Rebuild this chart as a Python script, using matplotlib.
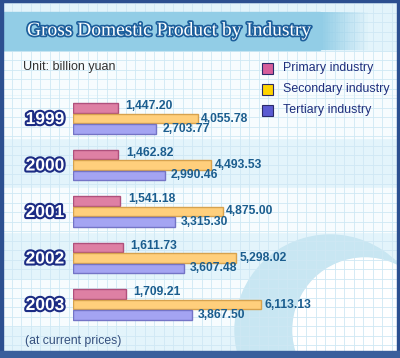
import numpy as np
import matplotlib
matplotlib.use("Agg")
import matplotlib.pyplot as plt
import matplotlib.patheffects as pe
from matplotlib.patches import Rectangle, Circle

years = ["1999", "2000", "2001", "2002", "2003"]
primary = [1447.20, 1462.82, 1541.18, 1611.73, 1709.21]
secondary = [4055.78, 4493.53, 4875.00, 5298.02, 6113.13]
tertiary = [2703.77, 2990.46, 3315.30, 3607.48, 3867.50]
series_names = ["Primary industry", "Secondary industry", "Tertiary industry"]

W, H = 400, 358
fig = plt.figure(figsize=(W / 100, H / 100), dpi=100)

# background layer in pixel coords
bg = fig.add_axes([0, 0, 1, 1])
bg.set_xlim(0, W)
bg.set_ylim(H, 0)
bg.axis("off")
bg.add_patch(Rectangle((0, 0), W, H, color="#e3f4fb", zorder=0))
# white bands behind the groups
for y0, h in [(52, 42), (96, 42), (188, 44), (280, 46)]:
    bg.add_patch(Rectangle((0, y0), W, h, color="#f7fcfe", zorder=0.1))
# globe-ish shapes bottom right
bg.add_patch(Circle((330, 330), 95, color="#c8e6f2", zorder=0.2))
bg.add_patch(Circle((365, 330), 72, color="#ffffff", zorder=0.3))
# grid
for gx in np.arange(2, W, 9.5):
    bg.axvline(gx, color="#cfe8f4", lw=0.6, zorder=0.5)
for gy in np.arange(3, H, 9.5):
    bg.axhline(gy, color="#cfe8f4", lw=0.6, zorder=0.5)

# title banner
bg.add_patch(Rectangle((0, 12), 320, 38, color="#92cde6", zorder=1))
for i, a in enumerate(np.linspace(1, 0, 20)):
    bg.add_patch(Rectangle((320 + i * 2.5, 12), 2.6, 38, color="#92cde6", alpha=a, lw=0, zorder=1))
bg.text(27, 31, "Gross Domestic Product by Industry", family="Liberation Serif",
        fontsize=14, color="white", va="center", ha="left", zorder=3,
        path_effects=[pe.withStroke(linewidth=2.5, foreground="#1d5f9c")])

# borders
bg.add_patch(Rectangle((0, 0), W, 2, color="#2c4f90", zorder=4))
bg.add_patch(Rectangle((0, 0), 3, H, color="#2c4f90", zorder=4))
bg.add_patch(Rectangle((W - 3, 0), 3, H, color="#2c4f90", zorder=4))
bg.add_patch(Rectangle((0, 351), W, 7, color="#3a5f9c", zorder=4))

bg.text(23, 67, "Unit: billion yuan", family="Liberation Sans", fontsize=9,
        color="#333333", va="center", zorder=3)
bg.text(25, 341, "(at current prices)", family="Liberation Sans", fontsize=8.8,
        color="#35507e", va="center", zorder=3)

# legend
leg_colors = ["#d65d9b", "#ffd400", "#5b5bd2"]
for i, (name, c) in enumerate(zip(series_names, leg_colors)):
    yc = 68 + i * 21
    bg.add_patch(Rectangle((262, yc - 5.5), 11, 11, facecolor=c, edgecolor="#2a2a6a", lw=0.8, zorder=3))
    bg.text(283, yc, name, family="Liberation Sans", fontsize=8.9, color="#1e2e7c",
            va="center", zorder=3)

# bars
bx = fig.add_axes([73 / W, 0, (W - 73) / W, 1])
bx.patch.set_alpha(0)
bx.axis("off")
spacing = 46.5
top = 118.5
bx.set_ylim((H - top) / spacing, -top / spacing)
bx.set_xlim(0, (W - 73) / 0.0308)

idx = np.arange(len(years))
bh = 0.2
off = 0.225
fills = ["#de80a4", "#ffcf7c", "#a4a4f2"]
edges = ["#b0507c", "#d7a24e", "#7474c6"]
vals = [primary, secondary, tertiary]
lab_dx = [8, 3, 6]
lab_dy = [2, 0, 0]
for k in range(3):
    ys = idx + (k - 1) * off
    bx.barh(ys, vals[k], height=bh, color=fills[k], edgecolor=edges[k], lw=1.0, zorder=2)
    for y, v in zip(ys, vals[k]):
        bx.annotate(f"{v:,.2f}", (v, y), xytext=(lab_dx[k], lab_dy[k]),
                    textcoords="offset pixels", family="Liberation Sans",
                    fontweight="bold", fontsize=8.7, color="#1b5d8e",
                    va="center", ha="left", zorder=3)

for i, yr in enumerate(years):
    bg.text(45, top + i * spacing + 1, yr, family="Liberation Sans", fontweight="bold",
            fontsize=12.5, color="white", ha="center", va="center", zorder=3,
            path_effects=[pe.withStroke(linewidth=3, foreground="#1c2c84")])

fig.savefig("out.png", dpi=100)
